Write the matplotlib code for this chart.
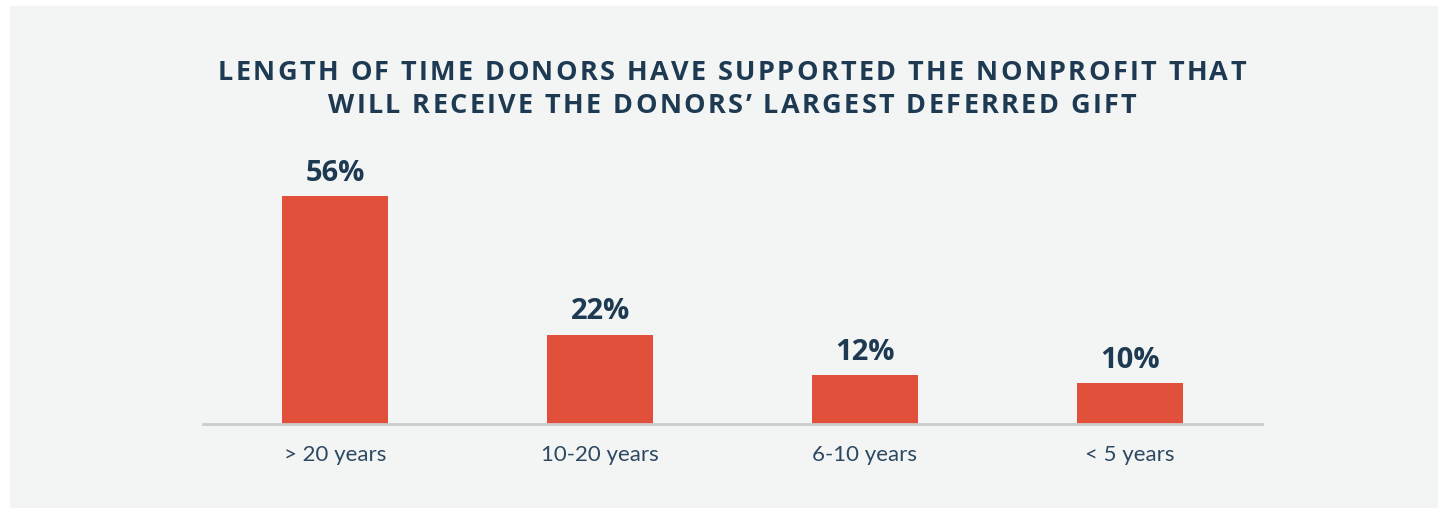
import matplotlib
matplotlib.use('Agg')
import matplotlib.pyplot as plt
from matplotlib.patches import Rectangle
from matplotlib.font_manager import FontProperties

# data
categorias = ['> 20 years', '10-20 years', '6-10 years', '< 5 years']
valores = [56, 22, 12, 10]
rotulos = ['56%', '22%', '12%', '10%']

titulo = ['LENGTH OF TIME DONORS HAVE SUPPORTED THE NONPROFIT THAT',
          'WILL RECEIVE THE DONORS\u2019 LARGEST DEFERRED GIFT']

cor_barra = '#e0503a'
cor_texto = '#1e3a52'
cor_fundo = '#f2f5f4'

W, H = 1438, 508
fig = plt.figure(figsize=(W / 100, H / 100), dpi=100)
fig.patch.set_facecolor('white')
fig.patches.append(Rectangle((10 / W, 0), 1, 502 / H, transform=fig.transFigure,
                             facecolor=cor_fundo, edgecolor='none', zorder=-10))

ax = fig.add_axes([203 / W, 84 / H, 1059 / W, 244 / H])
ax.set_facecolor('none')

x = list(range(len(categorias)))
barras = ax.bar(x, valores, width=0.40, color=cor_barra)

for rect, lab in zip(barras, rotulos):
    h = rect.get_height()
    ax.annotate(lab, (rect.get_x() + rect.get_width() / 2, h), xytext=(0, 6),
                textcoords='offset points', ha='center', va='bottom',
                fontsize=21, fontweight='bold', family='Open Sans', color=cor_texto)

ax.set_xlim(-0.5, 3.5)
ax.set_ylim(0, 60)
ax.set_xticks(x)
ax.set_xticklabels(categorias, family='Lato', fontsize=16, color='#2d4860')
ax.tick_params(axis='x', length=0, pad=15)
ax.set_yticks([])
for s in ['top', 'left', 'right']:
    ax.spines[s].set_visible(False)
ax.spines['bottom'].set_color('#cccccc')
ax.spines['bottom'].set_linewidth(2)

# titulo com espacamento entre letras
fp = FontProperties(family='Open Sans', weight='bold', size=19.5)
renderer = fig.canvas.get_renderer()

def larguras(linha):
    return [renderer.get_text_width_height_descent(c, fp, ismath=False)[0] for c in linha]

l1 = larguras(titulo[0])
espaco = (1028 - sum(l1)) / (len(titulo[0]) - 1)
centro = 732
for linha, ypix in zip(titulo, [80, 113]):
    ws = larguras(linha)
    total = sum(ws) + espaco * (len(linha) - 1)
    xp = centro - total / 2
    for c, w in zip(linha, ws):
        fig.text(xp / W, 1 - ypix / H, c, fontproperties=fp, color=cor_texto,
                 ha='left', va='baseline')
        xp += w + espaco

plt.savefig('out.png', dpi=100)
